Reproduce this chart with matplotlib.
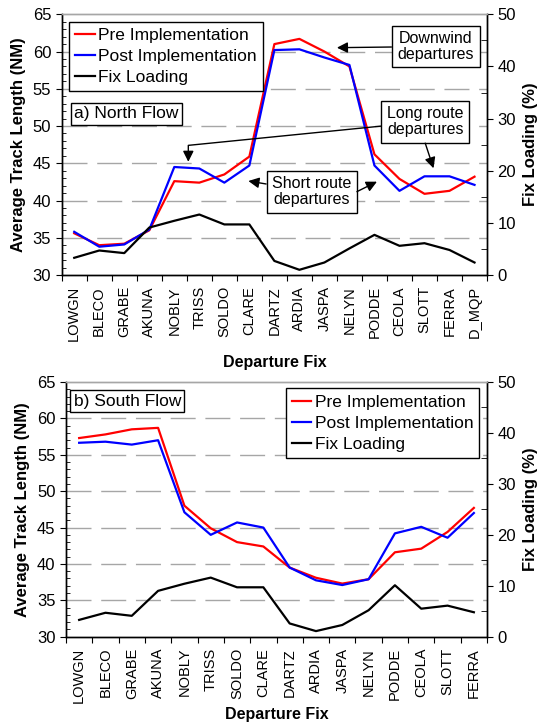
import numpy as np
import matplotlib
matplotlib.use("Agg")
import matplotlib.pyplot as plt
from matplotlib.ticker import MultipleLocator, FixedLocator, NullFormatter, FixedFormatter

plt.rcParams['font.family'] = ['Liberation Sans', 'DejaVu Sans']

# North flow (a)
north_fixes = ['LOWGN', 'BLECO', 'GRABE', 'AKUNA', 'NOBLY', 'TRISS', 'SOLDO', 'CLARE', 'DARTZ',
               'ARDIA', 'JASPA', 'NELYN', 'PODDE', 'CEOLA', 'SLOTT', 'FERRA', 'D_MQP']
north_pre = [35.6, 34.0, 34.2, 36.0, 42.6, 42.4, 43.5, 45.9, 61.0, 61.7, 60.0, 58.0, 46.2, 42.9, 40.9, 41.3, 43.2]
north_post = [35.8, 33.8, 34.1, 36.1, 44.5, 44.3, 42.4, 44.7, 60.2, 60.3, 59.2, 58.2, 44.7, 41.3, 43.25, 43.25, 42.1]
north_load = [3.3, 4.7, 4.2, 9.1, 10.4, 11.6, 9.7, 9.7, 2.7, 1.0, 2.4, 5.1, 7.7, 5.6, 6.1, 4.8, 2.4]

# South flow (b)
south_fixes = ['LOWGN', 'BLECO', 'GRABE', 'AKUNA', 'NOBLY', 'TRISS', 'SOLDO', 'CLARE', 'DARTZ',
               'ARDIA', 'JASPA', 'NELYN', 'PODDE', 'CEOLA', 'SLOTT', 'FERRA']
south_pre = [57.3, 57.8, 58.5, 58.7, 48.0, 44.9, 43.0, 42.4, 39.5, 38.1, 37.3, 37.9, 41.6, 42.1, 44.4, 47.7]
south_post = [56.65, 56.8, 56.4, 57.0, 47.1, 44.0, 45.7, 45.0, 39.5, 37.75, 37.1, 37.9, 44.2, 45.1, 43.6, 47.0]
south_load = [3.3, 4.7, 4.1, 9.0, 10.4, 11.6, 9.7, 9.7, 2.6, 1.1, 2.3, 5.2, 10.1, 5.5, 6.1, 4.8]

LW = 1.6
GRID = dict(color='#a6a6a6', linewidth=1.0, linestyle=(0, (18, 7)))


def make_panel(ax, fixes, pre, post, load, legend_loc, xpad):
    n = len(fixes)
    x = np.arange(n)
    ax2 = ax.twinx()
    l1, = ax.plot(x, pre, color='#ff0000', lw=LW, label='Pre Implementation')
    l2, = ax.plot(x, post, color='#0000ff', lw=LW, label='Post Implementation')
    l3, = ax2.plot(x, load, color='black', lw=LW, label='Fix Loading')

    ax.set_xlim(-0.5, n - 0.5)
    ax.set_ylim(30, 65)
    ax2.set_ylim(0, 50)

    # left axis
    ax.yaxis.set_major_locator(MultipleLocator(5))
    ax.yaxis.set_minor_locator(MultipleLocator(1))
    ax.tick_params(axis='y', which='major', direction='out', length=4, labelsize=12)
    ax.tick_params(axis='y', which='minor', direction='in', length=3)
    for v in range(35, 65, 5):
        ax.axhline(v, zorder=0, **GRID)

    # right axis
    ax2.yaxis.set_major_locator(MultipleLocator(10))
    ax2.yaxis.set_minor_locator(MultipleLocator(5))
    ax2.tick_params(axis='y', which='major', direction='out', length=4, labelsize=12)
    ax2.tick_params(axis='y', which='minor', direction='in', length=4)

    # category ticks between fixes, labels at centers
    ax.xaxis.set_major_locator(FixedLocator(np.arange(n + 1) - 0.5))
    ax.xaxis.set_major_formatter(NullFormatter())
    ax.xaxis.set_minor_locator(FixedLocator(x))
    ax.xaxis.set_minor_formatter(FixedFormatter(fixes))
    ax.tick_params(axis='x', which='major', direction='out', length=4)
    ax.tick_params(axis='x', which='minor', length=0, labelsize=10.5, rotation=90, pad=8)

    for a in (ax, ax2):
        a.spines['top'].set_color('#a6a6a6')
        a.spines['top'].set_linewidth(1.0)
        for s in ('left', 'right', 'bottom'):
            a.spines[s].set_linewidth(1.0)

    ax.set_ylabel('Average Track Length (NM)', fontsize=12, fontweight='bold', labelpad=5)
    ax2.set_ylabel('Fix Loading (%)', fontsize=12, fontweight='bold', labelpad=5)
    ax.set_xlabel('Departure Fix', fontsize=11.5, fontweight='bold', labelpad=xpad)

    leg = ax2.legend(handles=[l1, l2, l3], loc='upper left', bbox_to_anchor=legend_loc,
                     fontsize=12.5, frameon=True, fancybox=False, framealpha=1,
                     edgecolor='black', handlelength=1.1, handletextpad=0.2,
                     labelspacing=0.35, borderpad=0.35, borderaxespad=0)
    leg.get_frame().set_linewidth(1.0)
    return ax2


fig = plt.figure(figsize=(5.4, 7.26), dpi=100)
ax_a = fig.add_axes([0.1143, 0.6212, 0.7876, 0.3591])
ax_b = fig.add_axes([0.1222, 0.1230, 0.7797, 0.3508])

BOX = dict(boxstyle='square,pad=0.35', fc='white', ec='black', lw=1.0)
TAG = dict(boxstyle='square,pad=0.2', fc='white', ec='black', lw=1.0)
ARROW = dict(arrowstyle='-|>', color='black', lw=1.0, mutation_scale=16, shrinkA=0, shrinkB=0)

a2 = make_panel(ax_a, north_fixes, north_pre, north_post, north_load, (0.018, 0.972), 10)
ax_a.text(0.03, 0.6176, 'a) North Flow', transform=ax_a.transAxes, fontsize=12.5,
          ha='left', va='center', bbox=TAG, zorder=5)

b2 = make_panel(ax_b, south_fixes, south_pre, south_post, south_load, (0.5226, 0.975), 3)
ax_b.text(0.018, 0.925, 'b) South Flow', transform=ax_b.transAxes, fontsize=12.5,
          ha='left', va='center', bbox=TAG, zorder=5)

# annotations on panel a (data coords: fix index, NM)
a2.annotate('Downwind\ndepartures', xy=(10.5, 60.52), xycoords=ax_a.transData,
            xytext=(14.45, 60.68), textcoords=ax_a.transData,
            ha='center', va='center', fontsize=11.5, linespacing=1.05, bbox=BOX, arrowprops=ARROW)

a2.annotate('Long route\ndepartures', xy=(4.56, 45.2), xycoords=ax_a.transData,
            xytext=(14.03, 50.58), textcoords=ax_a.transData,
            ha='center', va='center', fontsize=11.5, linespacing=1.05, bbox=BOX,
            arrowprops=dict(ARROW, connectionstyle='angle,angleA=185.7,angleB=90,rad=0'))
a2.annotate('', xy=(14.36, 44.33), xycoords=ax_a.transData,
            xytext=(14.03, 47.7), textcoords=ax_a.transData, arrowprops=ARROW)

a2.annotate('Short route\ndepartures', xy=(6.96, 42.62), xycoords=ax_a.transData,
            xytext=(9.5, 41.19), textcoords=ax_a.transData,
            ha='center', va='center', fontsize=11.5, linespacing=1.05, bbox=BOX, arrowprops=ARROW)
a2.annotate('', xy=(12.1, 42.53), xycoords=ax_a.transData,
            xytext=(11.3, 41.19), textcoords=ax_a.transData, arrowprops=ARROW)

fig.savefig('out.png', dpi=100)
